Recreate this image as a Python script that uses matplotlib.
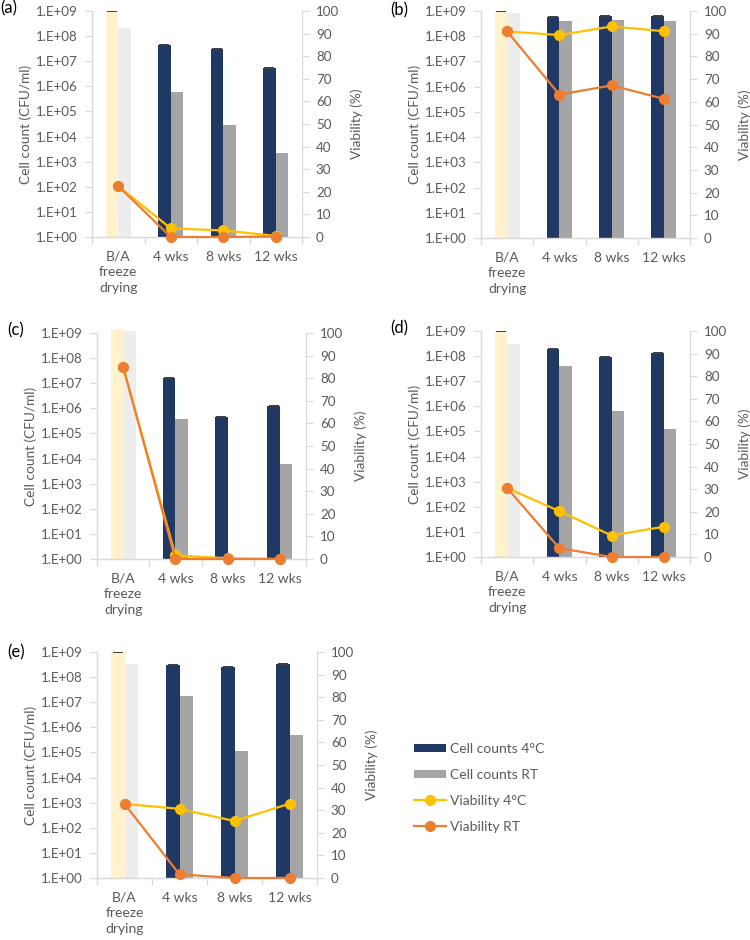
import numpy as np
import matplotlib
matplotlib.use("Agg")
import matplotlib.pyplot as plt
from matplotlib.patches import Patch
from matplotlib.lines import Line2D

plt.rcParams['font.family'] = ['Lato', 'DejaVu Sans']

categories = ["B/A\nfreeze\ndrying", "4 wks", "8 wks", "12 wks"]
panel_labels = ["(a)", "(b)", "(c)", "(d)", "(e)"]
legend_labels = ["Cell counts 4\u00b0C", "Cell counts RT", "Viability 4\u00b0C", "Viability RT"]

# Cell counts (CFU/ml)
counts_4C_a = [1.0e9, 4.4e7, 3.0e7, 5.2e6]
counts_RT_a = [2.1e8, 5.8e5, 2.9e4, 2.3e3]
counts_4C_b = [1.0e9, 6.0e8, 6.3e8, 6.3e8]
counts_RT_b = [8.5e8, 4.0e8, 4.4e8, 4.0e8]
counts_4C_c = [1.4e9, 1.55e7, 4.4e5, 1.2e6]
counts_RT_c = [1.2e9, 3.9e5, 1.0, 6.2e3]
counts_4C_d = [1.0e9, 1.9e8, 9.3e7, 1.3e8]
counts_RT_d = [3.0e8, 4.0e7, 6.7e5, 1.25e5]
counts_4C_e = [1.0e9, 3.1e8, 2.6e8, 3.3e8]
counts_RT_e = [3.3e8, 1.7e7, 1.15e5, 4.9e5]

# Viability (%)
via_4C_a = [22.5, 3.8, 2.9, 0.5]
via_RT_a = [22.5, 0.0, 0.0, 0.2]
via_4C_b = [91.0, 89.4, 93.2, 91.1]
via_RT_b = [91.0, 63.2, 67.2, 61.3]
via_4C_c = [85.0, 1.6, 0.3, 0.0]
via_RT_c = [85.0, 0.0, 0.0, 0.0]
via_4C_d = [30.5, 20.3, 9.5, 13.4]
via_RT_d = [30.5, 3.9, 0.0, 0.0]
via_4C_e = [32.8, 30.6, 25.2, 32.9]
via_RT_e = [32.8, 1.6, 0.0, 0.0]

NAVY = "#203864"
GREY = "#A5A5A5"
LIGHT_YEL = "#FFF2CC"
LIGHT_GREY = "#EDEDED"
YELLOW = "#FFC000"
ORANGE = "#ED7D31"
TXT = "#595959"
SPINE = "#D9D9D9"
FS = 9.6

W, H = 750, 940
fig = plt.figure(figsize=(W / 100, H / 100), dpi=100)


def rect(l, r, t, b):
    return [l / W, 1 - b / H, (r - l) / W, (b - t) / H]


panels = [
    (rect(92, 302, 11, 237), counts_4C_a, counts_RT_a, via_4C_a, via_RT_a, (0, 8)),
    (rect(481, 690, 11, 238), counts_4C_b, counts_RT_b, via_4C_b, via_RT_b, (390, 10)),
    (rect(97, 306, 333, 559), counts_4C_c, counts_RT_c, via_4C_c, via_RT_c, (7, 330)),
    (rect(481, 690, 331, 557), counts_4C_d, counts_RT_d, via_4C_d, via_RT_d, (390, 328)),
    (rect(97, 317, 652, 878), counts_4C_e, counts_RT_e, via_4C_e, via_RT_e, (7, 652)),
]

bw = 0.24
x = np.arange(len(categories))

for (r, c4, crt, v4, vrt, lab_pos), plabel in zip(panels, panel_labels):
    ax = fig.add_axes(r)
    c4 = np.asarray(c4, float)
    crt = np.asarray(crt, float)
    col4 = [LIGHT_YEL] + [NAVY] * (len(x) - 1)
    colrt = [LIGHT_GREY] + [GREY] * (len(x) - 1)
    ax.set_yscale('log')
    ax.bar(x - bw / 2, c4 - 1, bottom=1, width=bw, color=col4, clip_on=False, zorder=2)
    ax.bar(x + bw / 2, crt - 1, bottom=1, width=bw, color=colrt, clip_on=False, zorder=2)
    ax.errorbar(x - bw / 2, c4, yerr=np.zeros_like(c4), fmt='none', ecolor="#404040",
                capsize=3.8, capthick=1.3, elinewidth=0, zorder=3)
    ax.set_ylim(1, 1e9)
    ax.set_xlim(-0.5, len(x) - 0.5)
    ax.set_yticks([10.0 ** i for i in range(10)])
    ax.set_yticklabels([f"1.E+{i:02d}" for i in range(10)])
    ax.minorticks_off()
    ax.set_xticks(x)
    ax.set_xticklabels(categories, linespacing=1.35)
    ax.set_xticks(np.arange(-0.5, len(x)), minor=True)
    ax.tick_params(axis='x', which='major', length=0, pad=10, labelsize=FS + 0.4, labelcolor=TXT)
    ax.tick_params(axis='x', which='minor', length=5, color=SPINE, width=1)
    ax.tick_params(axis='y', length=5, color=SPINE, labelsize=FS, labelcolor=TXT, pad=5)
    for s in ['top', 'right']:
        ax.spines[s].set_visible(False)
    for s in ['left', 'bottom']:
        ax.spines[s].set_color(SPINE)
        ax.spines[s].set_linewidth(1)
    ax.set_ylabel("Cell count (CFU/ml)", color=TXT, fontsize=FS + 0.2, labelpad=3)

    ax2 = ax.twinx()
    ax2.plot(x, v4, color=YELLOW, lw=1.6, marker='o', ms=7, zorder=3, clip_on=False)
    ax2.plot(x, vrt, color=ORANGE, lw=1.6, marker='o', ms=7, zorder=4, clip_on=False)
    ax2.set_ylim(0, 100)
    ax2.set_yticks(np.arange(0, 101, 10))
    ax2.tick_params(axis='y', length=5, color=SPINE, labelsize=FS, labelcolor=TXT, pad=5)
    for s in ['top', 'left', 'bottom']:
        ax2.spines[s].set_visible(False)
    ax2.spines['right'].set_color(SPINE)
    ax2.set_ylabel("Viability (%)", color=TXT, fontsize=FS + 0.2, labelpad=8)

    fig.text(lab_pos[0] / W, 1 - lab_pos[1] / H, plabel, fontsize=12,
             color="#000000", ha='left', va='center')

handles = [
    Patch(facecolor=NAVY),
    Patch(facecolor=GREY),
    Line2D([0], [0], color=YELLOW, lw=1.6, marker='o', ms=7),
    Line2D([0], [0], color=ORANGE, lw=1.6, marker='o', ms=7),
]
fig.legend(handles, legend_labels, loc='upper left', bbox_to_anchor=(414 / W, 1 - 743 / H),
           frameon=False, fontsize=10, labelcolor=TXT, handlelength=2.3, handleheight=0.5,
           handletextpad=0.3, labelspacing=1.0, borderpad=0, borderaxespad=0)

fig.savefig("out.png", dpi=100)
